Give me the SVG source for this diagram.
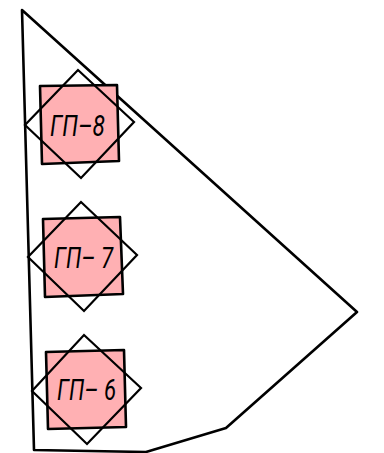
<svg xmlns="http://www.w3.org/2000/svg" width="384" height="453" viewBox="0 0 384 453">
<style>
.o{fill:none;stroke:#000;stroke-width:2.6;stroke-linejoin:round}
.s{fill:#ffb0b3;stroke:#000;stroke-width:2.6;stroke-linejoin:round}
.d{fill:none;stroke:#000;stroke-width:2.2;stroke-linejoin:miter}
.t{font-family:"Roboto","Liberation Sans",Arial,sans-serif;font-style:italic;font-weight:400;font-size:29px;fill:#000}
</style>
<rect width="384" height="453" fill="#fff"/>
<g id="site"><polygon class="o" points="22,10 357,312 226,428 146,452 34,450"/></g>
<g id="gp8">
<polygon class="s" points="40,86 117,85 119,161 42,164"/>
<polygon class="d" points="78,70 134,122 81,178 25,125"/>
<text class="t" x="50" y="135.500" textLength="55" lengthAdjust="spacingAndGlyphs">ГП–8</text>
</g>
<g id="gp7">
<polygon class="s" points="43,219 120,217 123,294 45,297"/>
<polygon class="d" points="81,202 137,255 84,311 28,257"/>
<text class="t" x="54" y="268" textLength="59" lengthAdjust="spacingAndGlyphs">ГП– 7</text>
</g>
<g id="gp6">
<polygon class="s" points="46,352 124,350 126,427 48,429"/>
<polygon class="d" points="84,335 141,388 87,444 32,391"/>
<text class="t" x="57" y="399.500" textLength="59" lengthAdjust="spacingAndGlyphs">ГП– 6</text>
</g>
</svg>
